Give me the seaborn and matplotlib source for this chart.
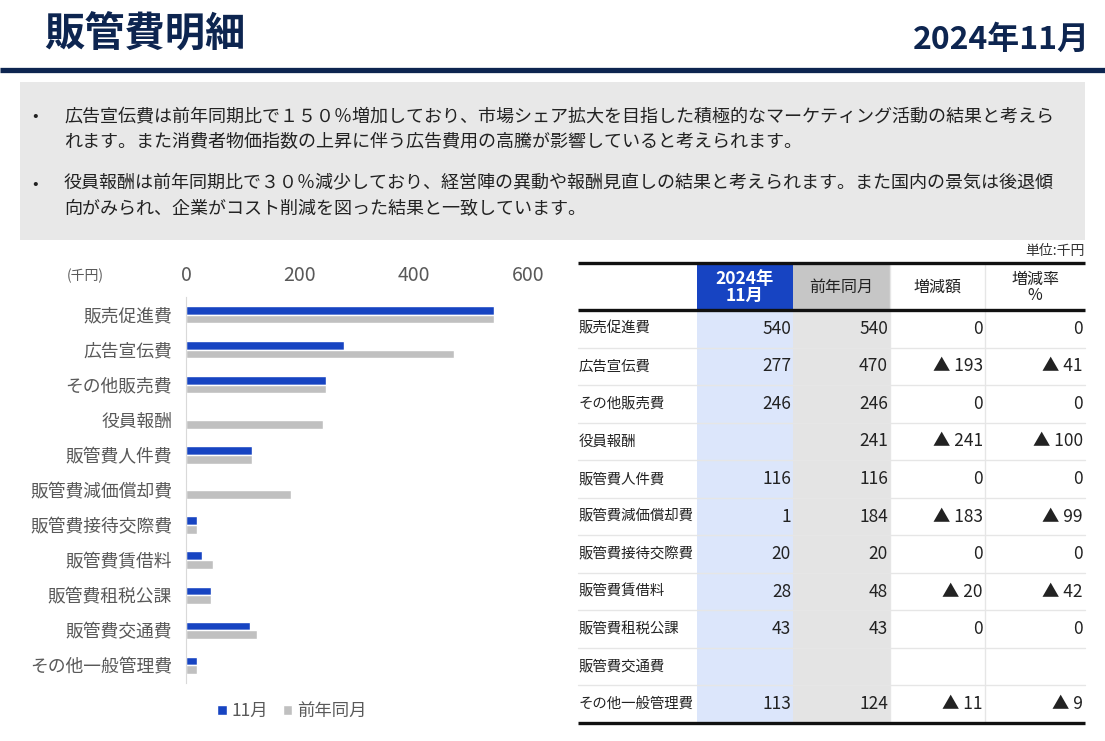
"""SG&A expense breakdown slide: bar chart plus comparison table."""

import matplotlib

matplotlib.use("Agg")
import matplotlib.pyplot as plt
import pandas as pd
import seaborn as sns
from matplotlib.patches import Rectangle

# ---- data -----------------------------------------------------------------
ITEMS = [
    "販売促進費", "広告宣伝費", "その他販売費", "役員報酬", "販管費人件費",
    "販管費減価償却費", "販管費接待交際費", "販管費賃借料", "販管費租税公課",
    "販管費交通費", "その他一般管理費",
]
# values as drawn in the bar chart (千円)
CHART_CURRENT = [540, 277, 246, 0, 116, 1, 20, 28, 43, 113, 19]
CHART_PRIOR = [540, 470, 246, 241, 116, 184, 20, 48, 43, 124, 19]
SERIES = ["11月", "前年同月"]

# values as printed in the table
TABLE_CURRENT = ["540", "277", "246", "", "116", "1", "20", "28", "43", "", "113"]
TABLE_PRIOR = ["540", "470", "246", "241", "116", "184", "20", "48", "43", "", "124"]
TABLE_DIFF = ["0", "▲ 193", "0", "▲ 241", "0", "▲ 183", "0", "▲ 20", "0", "", "▲ 11"]
TABLE_RATE = ["0", "▲ 41", "0", "▲ 100", "0", "▲ 99", "0", "▲ 42", "0", "", "▲ 9"]
TABLE_HEADERS = ["", "2024年\n11月", "前年同月", "増減額", "増減率\n%"]

X_TICKS = [0, 200, 400, 600]

COMMENTS = [
    "広告宣伝費は前年同期比で１５０％増加しており、市場シェア拡大を目指した積極的なマーケティング活動の結果と考えら\n"
    "れます。また消費者物価指数の上昇に伴う広告費用の高騰が影響していると考えられます。",
    "役員報酬は前年同期比で３０％減少しており、経営陣の異動や報酬見直しの結果と考えられます。また国内の景気は後退傾\n"
    "向がみられ、企業がコスト削減を図った結果と一致しています。",
]

NAVY = "#0d2550"
BLUE = "#1744c2"
GREY_BAR = "#c0c0c0"
TEXT_GREY = "#595959"

W, H = 1105, 741

sns.set_theme(style="white")
plt.rcParams["font.family"] = ["Noto Sans CJK JP", "DejaVu Sans"]


def fx(x):
    return x / W


def fy(y):
    return 1 - y / H


fig = plt.figure(figsize=(W / 100, H / 100), dpi=100)
fig.patch.set_facecolor("white")

# ---- slide canvas (pixel coordinates) -------------------------------------
canvas = fig.add_axes([0, 0, 1, 1])
canvas.set_xlim(0, W)
canvas.set_ylim(H, 0)
canvas.axis("off")

canvas.text(44, 35, "販管費明細", fontsize=29, fontweight="bold", color=NAVY,
            ha="left", va="center")
canvas.text(1090, 40, "2024年11月", fontsize=23, fontweight="bold", color=NAVY,
            ha="right", va="center")
canvas.plot([0, W], [70, 70], color=NAVY, lw=3.8, solid_capstyle="butt")

canvas.add_patch(Rectangle((20, 82), 1065, 158, facecolor="#e8e8e8", edgecolor="none"))
for i, comment in enumerate(COMMENTS):
    y0 = 117 + i * 67
    canvas.text(35, y0, "•", fontsize=12, color="#222222", ha="center", va="center")
    canvas.text(64, y0 - 10, comment, fontsize=13, color="#222222", ha="left",
                va="top", linespacing=1.6)

# ---- bar chart ---------------------------------------------------------------
bars = pd.DataFrame({
    "item": ITEMS * 2,
    "value": CHART_CURRENT + CHART_PRIOR,
    "period": [SERIES[0]] * len(ITEMS) + [SERIES[1]] * len(ITEMS),
})

ax = fig.add_axes([fx(186), fy(683), fx(528) - fx(186), fy(297) - fy(683)])
sns.barplot(
    data=bars, y="item", x="value", hue="period", orient="h",
    palette=[BLUE, GREY_BAR], width=0.5, saturation=1, ax=ax,
)
ax.set_xlim(0, 600)
ax.set_ylim(len(ITEMS) - 0.5, -0.5)
ax.set_xticks(X_TICKS)
ax.xaxis.tick_top()
ax.tick_params(axis="x", length=0, labelsize=14, labelcolor=TEXT_GREY, pad=8)
ax.tick_params(axis="y", which="major", length=0, labelsize=12.8,
               labelcolor=TEXT_GREY, pad=10)
ax.set_yticks([i - 0.5 for i in range(len(ITEMS) + 1)], minor=True)
ax.tick_params(axis="y", which="minor", length=5, color="#d9d9d9", width=0.8)
ax.set_xlabel("")
ax.set_ylabel("")
for side in ["top", "right", "bottom"]:
    ax.spines[side].set_visible(False)
ax.spines["left"].set_color("#d9d9d9")
ax.spines["left"].set_linewidth(0.8)
ax.set_facecolor("none")

ax.legend(
    loc="center", bbox_to_anchor=(fx(292), fy(711)), bbox_transform=fig.transFigure,
    ncol=2, frameon=False, fontsize=12.5, labelcolor=TEXT_GREY,
    handlelength=0.55, handleheight=0.55, handletextpad=0.3, columnspacing=0.8,
)
canvas.text(85, 276, "(千円)", fontsize=10, color=TEXT_GREY, ha="center", va="center")

# ---- table -------------------------------------------------------------------
col_edges = [578, 697, 793, 890, 985, 1085]
head_top, head_bottom, table_bottom = 263, 310, 723
row_h = (table_bottom - head_bottom) / len(ITEMS)

canvas.text(1085, 251, "単位:千円", fontsize=10, color="#333333", ha="right", va="center")

canvas.add_patch(Rectangle((col_edges[1], head_top), col_edges[2] - col_edges[1],
                           head_bottom - head_top, facecolor=BLUE, edgecolor="none"))
canvas.add_patch(Rectangle((col_edges[2], head_top), col_edges[3] - col_edges[2],
                           head_bottom - head_top, facecolor="#c6c6c6", edgecolor="none"))
canvas.add_patch(Rectangle((col_edges[1], head_bottom), col_edges[2] - col_edges[1],
                           table_bottom - head_bottom, facecolor="#dce6fb", edgecolor="none"))
canvas.add_patch(Rectangle((col_edges[2], head_bottom), col_edges[3] - col_edges[2],
                           table_bottom - head_bottom, facecolor="#e4e4e4", edgecolor="none"))

for j, header in enumerate(TABLE_HEADERS):
    if not header:
        continue
    xc = (col_edges[j] + col_edges[j + 1]) / 2
    is_current = j == 1
    canvas.text(xc, (head_top + head_bottom) / 2 + 1, header,
                fontsize=12.5 if is_current else 11.5,
                fontweight="bold" if is_current else "normal",
                color="white" if is_current else "#222222",
                ha="center", va="center", linespacing=0.95)

for i in range(1, len(ITEMS)):
    yl = head_bottom + i * row_h
    canvas.plot([col_edges[0], col_edges[-1]], [yl, yl], color="#e6e6e6", lw=1, zorder=1)
for xv in [col_edges[3], col_edges[4]]:
    canvas.plot([xv, xv], [head_top, table_bottom], color="#e6e6e6", lw=1, zorder=1)

columns = [TABLE_CURRENT, TABLE_PRIOR, TABLE_DIFF, TABLE_RATE]
for i, item in enumerate(ITEMS):
    yc = head_bottom + (i + 0.5) * row_h
    canvas.text(col_edges[0] + 1, yc, item, fontsize=10.4, color="#222222",
                ha="left", va="center")
    for j, column in enumerate(columns):
        canvas.text(col_edges[j + 2] - 2, yc, column[i], fontsize=12.5, color="#222222",
                    ha="right", va="center")

for yl in [head_top, head_bottom, table_bottom]:
    canvas.plot([col_edges[0], col_edges[-1]], [yl, yl], color="#111111", lw=2.4,
                solid_capstyle="butt", zorder=3)

fig.savefig("out.png", dpi=100, facecolor="white")
